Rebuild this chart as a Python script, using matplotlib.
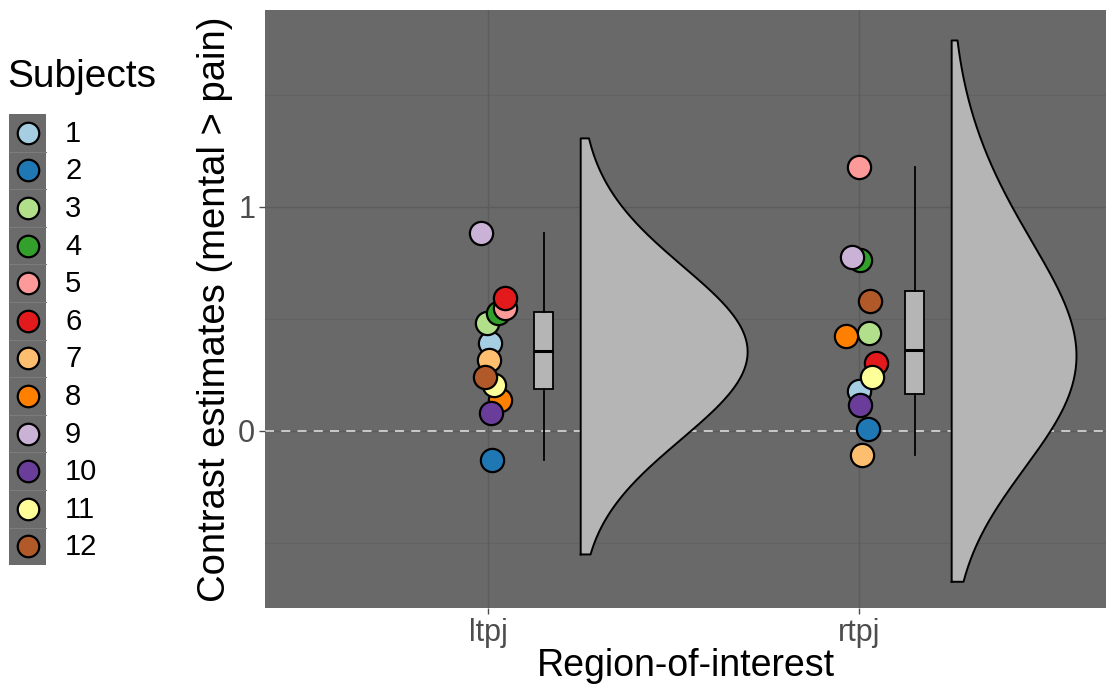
import matplotlib.pyplot as plt
import numpy as np
from matplotlib.patches import Rectangle

# Data (contrast estimates per subject, per ROI)
rois = ['ltpj', 'rtpj']
subjects = [str(i) for i in range(1, 13)]
ltpj = [0.393, -0.129, 0.482, 0.527, 0.549, 0.594, 0.317, 0.138, 0.884, 0.080, 0.205, 0.241]
rtpj = [0.180, 0.008, 0.439, 0.763, 1.177, 0.302, -0.107, 0.424, 0.778, 0.116, 0.240, 0.580]
# jitter of the points as it appears in the picture (x units)
jit_ltpj = [0.005, 0.011, -0.003, 0.027, 0.046, 0.046, 0.003, 0.032, -0.019, 0.008, 0.016, -0.008]
jit_rtpj = [0.0, 0.024, 0.027, 0.003, 0.0, 0.046, 0.008, -0.035, -0.019, 0.003, 0.035, 0.030]

# RColorBrewer "Paired"
paired = ['#A6CEE3', '#1F78B4', '#B2DF8A', '#33A02C', '#FB9A99', '#E31A1C',
          '#FDBF6F', '#FF7F00', '#CAB2D6', '#6A3D9A', '#FFFF99', '#B15928']

plt.rcParams['font.family'] = ['Liberation Sans', 'DejaVu Sans']

panel_bg = '#696969'
fill_grey = '#B5B5B5'


def nrd0(v):
    v = np.asarray(v)
    q1, q3 = np.percentile(v, [25, 75])
    lo = min(np.std(v, ddof=1), (q3 - q1) / 1.34)
    return 0.9 * lo * len(v) ** -0.2


# like ggplot's stat_ydensity with trim=FALSE, adjust=2:
# range from the plain bandwidth, density from the adjusted one
def kde(v, adjust=2, n=512):
    v = np.asarray(v)
    bw = nrd0(v)
    y = np.linspace(v.min() - 3 * bw, v.max() + 3 * bw, n)
    h = bw * adjust
    d = np.exp(-0.5 * ((y[:, None] - v[None, :]) / h) ** 2).sum(axis=1)
    d = d / (len(v) * h * np.sqrt(2 * np.pi))
    return y, d


fig = plt.figure(figsize=(11.06, 6.95), dpi=100)
ax = fig.add_axes([0.2396, 0.1252, 0.7604, 0.8604])
ax.set_facecolor(panel_bg)

data = [ltpj, rtpj]
jits = [jit_ltpj, jit_rtpj]
xs = np.arange(1, len(rois) + 1)

# grid
for yv in [-0.5, 0.5, 1.5]:
    ax.axhline(yv, color='#626262', lw=0.8, zorder=0)
for yv in [0, 1]:
    ax.axhline(yv, color='#5C5C5C', lw=1.0, zorder=0)
for xv in xs:
    ax.axvline(xv, color='#5C5C5C', lw=1.0, zorder=0)

ax.axhline(0, color='#D2D2D2', lw=1.3, ls=(0, (5, 4)), zorder=1)

# half violins (scale = area, shared max)
dens = [kde(v) for v in data]
dmax = max(d.max() for _, d in dens)
for x, (yy, d) in zip(xs, dens):
    x0 = x + 0.25
    w = d / dmax * 0.45
    ax.fill_betweenx(yy, x0, x0 + w, facecolor=fill_grey, edgecolor='none', zorder=2)
    px = np.concatenate([[x0], x0 + w, [x0, x0]])
    py = np.concatenate([[yy[0]], yy, [yy[-1], yy[0]]])
    ax.plot(px, py, color='black', lw=1.4, zorder=3)

# boxplots
ax.boxplot(data, positions=xs + 0.15, widths=0.052, patch_artist=True,
           showcaps=False, showfliers=False, manage_ticks=False,
           boxprops=dict(facecolor=fill_grey, edgecolor='black', lw=1.3),
           medianprops=dict(color='black', lw=2.2),
           whiskerprops=dict(color='black', lw=1.3), zorder=3)

# points
for x, vals, jit in zip(xs, data, jits):
    for i in range(len(subjects)):
        ax.scatter(x + jit[i], vals[i], s=280, color=paired[i], edgecolor='black',
                   linewidth=1.6, zorder=4 + i * 0.01)

ax.set_xlim(0.399, 2.666)
ax.set_ylim(-0.79, 1.879)
ax.set_xticks(xs)
ax.set_xticklabels(rois)
ax.set_yticks([0, 1])
ax.tick_params(axis='both', colors='#4D4D4D', labelsize=22, length=4, width=1,
               labelcolor='#4D4D4D', pad=3)
for s in ax.spines.values():
    s.set_visible(False)
ax.set_xlabel('Region-of-interest', fontsize=27, labelpad=0)
ax.set_ylabel('Contrast estimates (mental > pain)', fontsize=27.5, labelpad=4)

# legend drawn by hand, in pixel units
lax = fig.add_axes([0, 0, 0.2, 1])
lax.set_xlim(0, 221.2)
lax.set_ylim(695, 0)
lax.axis('off')
lax.text(7, 77, 'Subjects', fontsize=28, va='center', ha='left')
top = 114
step = 37.6
lax.add_patch(Rectangle((9, top), 37, step * len(subjects), facecolor='#6B6B6B',
                        edgecolor='none'))
for i, lab in enumerate(subjects):
    yc = top + step * (i + 0.5)
    if i > 0:
        lax.plot([9, 46], [top + step * i] * 2, color='#7C7C7C', lw=0.8)
    lax.scatter(27.5, yc, s=240, color=paired[i], edgecolor='black', linewidth=1.6)
    lax.text(65, yc + 1, lab, fontsize=21, va='center', ha='left')

fig.savefig('out.png', dpi=100)
